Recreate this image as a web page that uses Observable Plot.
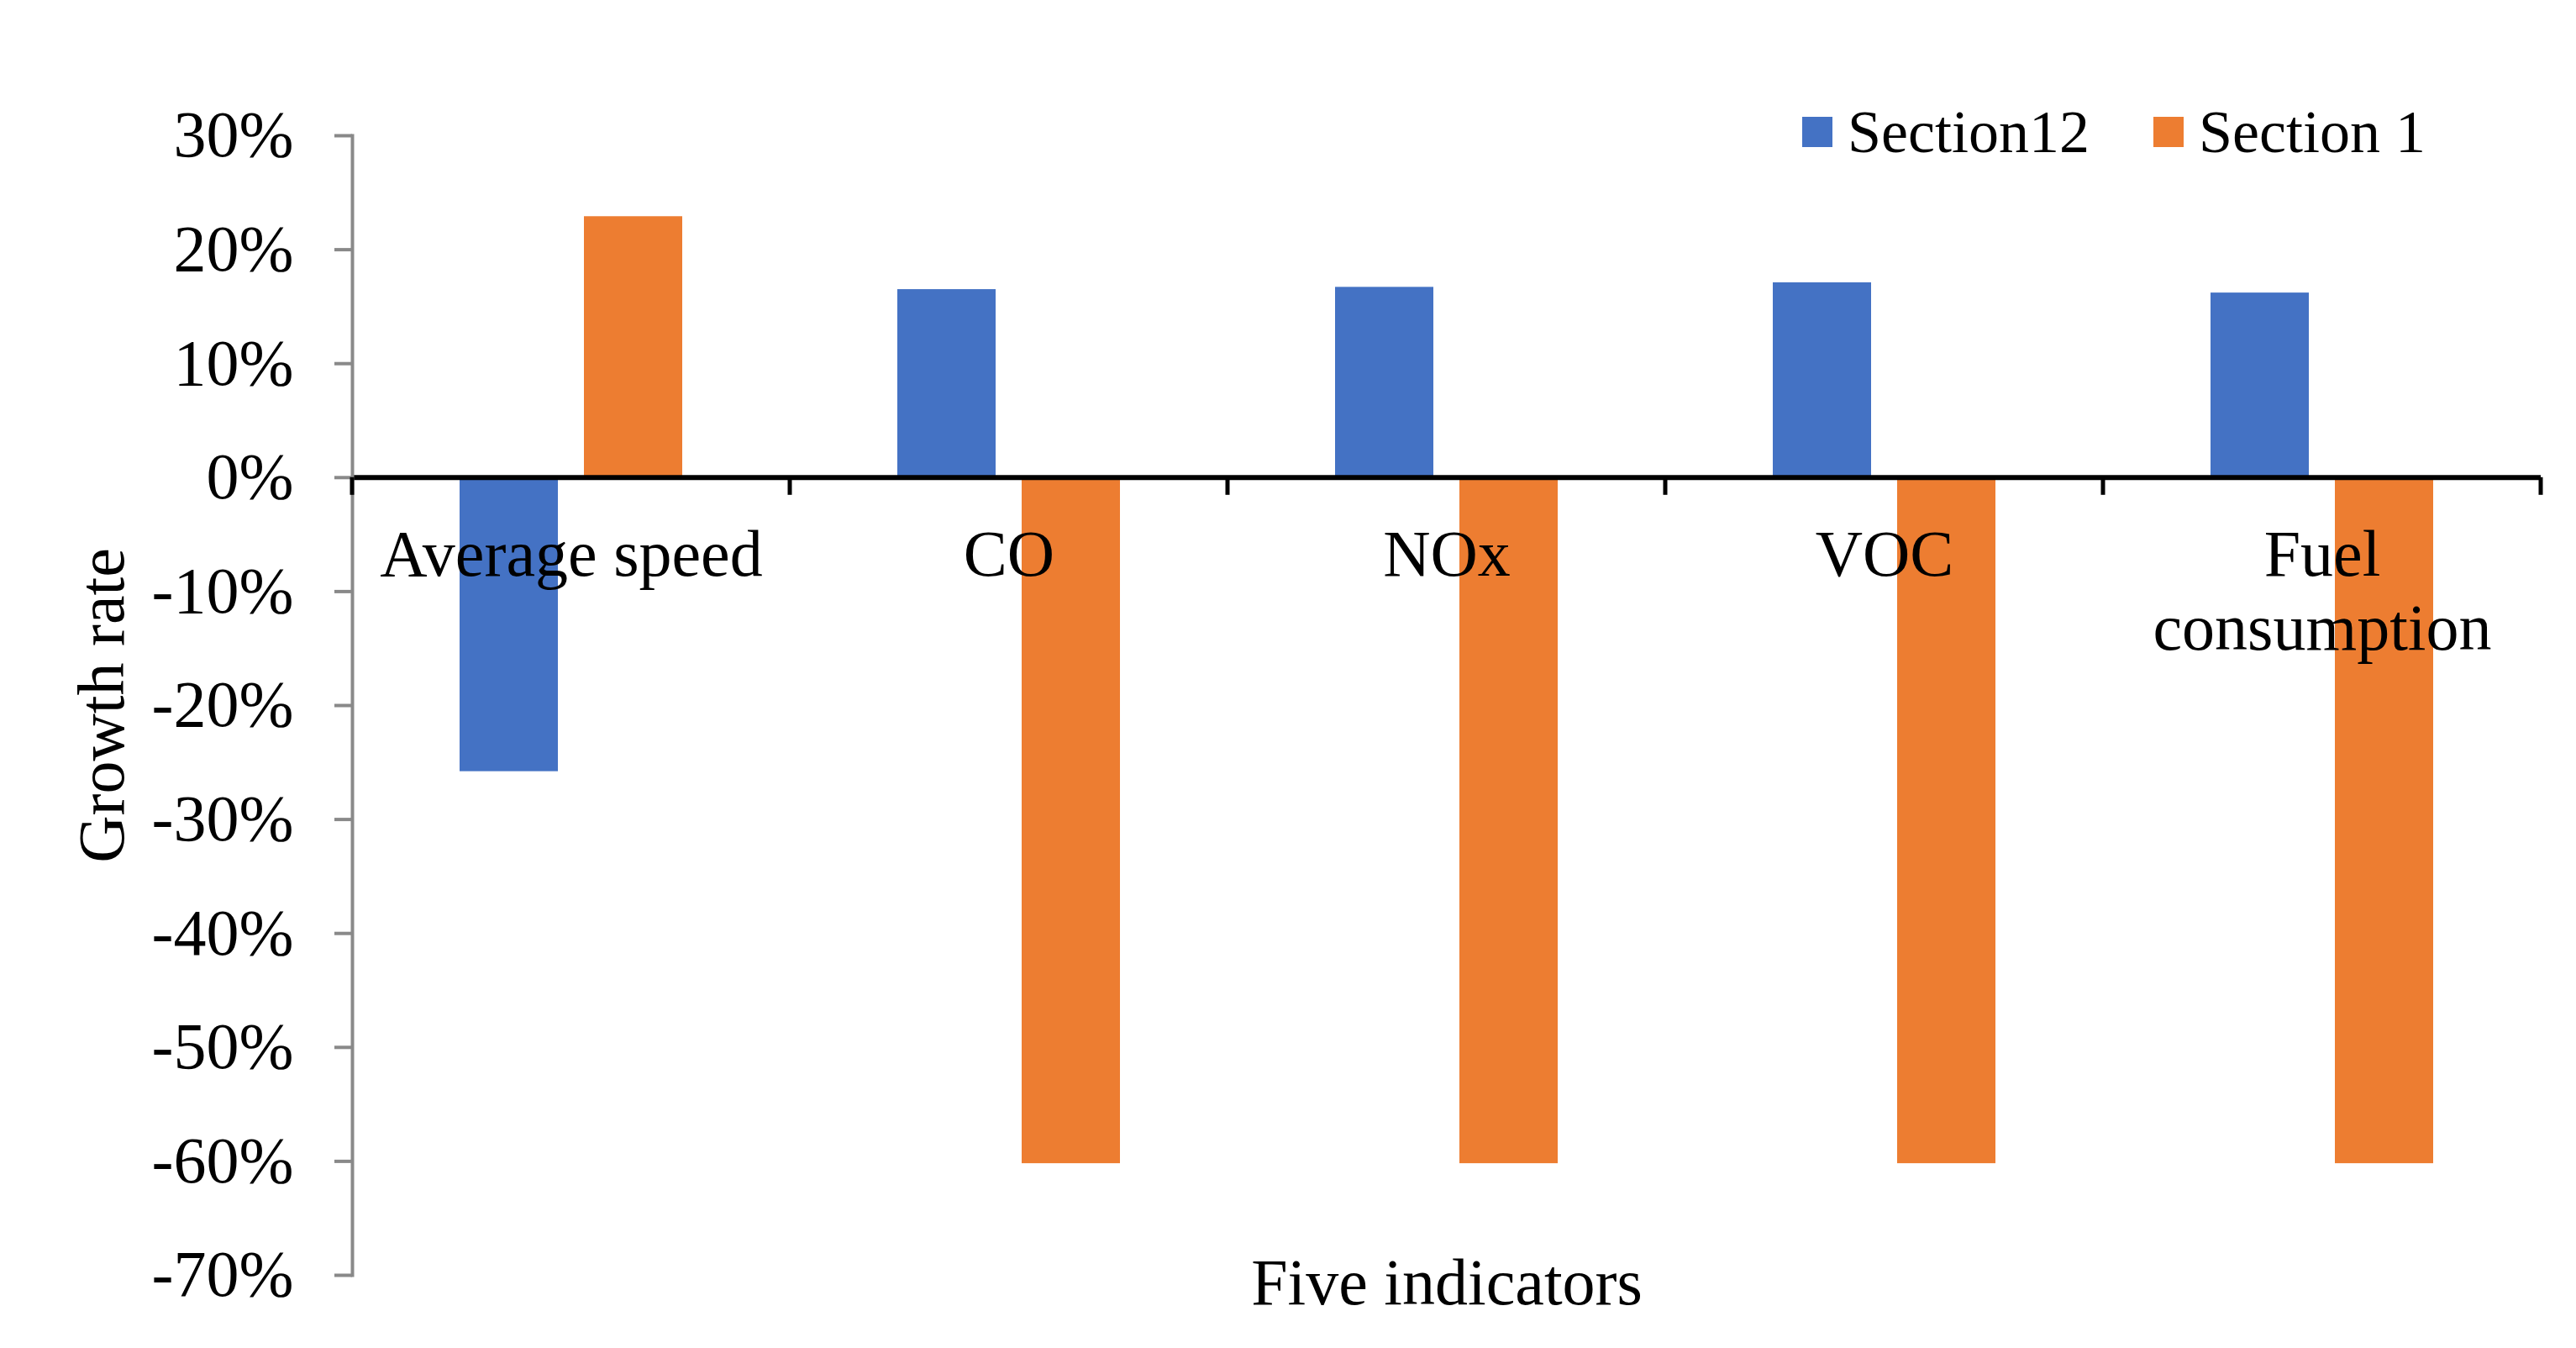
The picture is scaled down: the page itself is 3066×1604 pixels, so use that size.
<!DOCTYPE html>
<html>
<head>
<meta charset="utf-8">
<script src="https://cdn.jsdelivr.net/npm/d3@7"></script>
<script src="https://cdn.jsdelivr.net/npm/@observablehq/plot@0.6"></script>
<style>
  html, body { margin: 0; padding: 0; background: #fff; }
  #wrap { position: relative; width: 3066px; height: 1604px; font-family: "Liberation Serif", "Times New Roman", serif; }
  #legend { position: absolute; left: 2145px; top: 121px; display: flex; align-items: center; font-size: 72px; line-height: 1; color: #000; }
  .item { display: flex; align-items: center; }
  .item + .item { margin-left: 76px; }
  .sw { display: inline-block; width: 36px; height: 36px; margin-right: 18px; }
</style>
</head>
<body>
<div id="wrap"><div id="legend"></div></div>
<script>
// ---- data ----
const categories = ["Average speed", "CO", "NOx", "VOC", "Fuel consumption"];
const categoryLabels = ["Average speed", "CO", "NOx", "VOC", "Fuel\nconsumption"];
const seriesNames = ["Section12", "Section 1"];
const section12 = [-0.258, 0.165, 0.167, 0.171, 0.162];
const section1 = [0.229, -0.602, -0.602, -0.602, -0.602];
const seriesColors = ["#4472C4", "#ED7D31"];
const yTicks = [0.3, 0.2, 0.1, 0, -0.1, -0.2, -0.3, -0.4, -0.5, -0.6, -0.7];
const yLabel = "Growth rate";
const xLabel = "Five indicators";

const rows = [];
categories.forEach((c, i) => {
  rows.push({category: c, series: seriesNames[0], value: section12[i]});
  rows.push({category: c, series: seriesNames[1], value: section1[i]});
});

const fmt = d => `${Math.round(d * 100)}%`;

const plot = Plot.plot({
  width: 3066,
  height: 1604,
  marginLeft: 417,
  marginRight: 40,
  marginTop: 161,
  marginBottom: 87,
  style: {fontFamily: "Liberation Serif, Times New Roman, serif", fontSize: "78px", background: "white", color: "black"},
  fx: {domain: categories, padding: 0, axis: null},
  x: {domain: seriesNames, paddingInner: 0.21, paddingOuter: 0.86, axis: null},
  y: {domain: [-0.7, 0.3]},
  color: {domain: seriesNames, range: seriesColors},
  marks: [
    Plot.barY(rows, {fx: "category", x: "series", y: "value", fill: "series"}),
    Plot.ruleY([0], {stroke: "black", strokeWidth: 6}),
    Plot.frame({anchor: "left", facetAnchor: "left", stroke: "#898989", strokeWidth: 4}),
    Plot.axisY({
      ticks: yTicks, tickSize: 21, tickPadding: 49, tickFormat: fmt,
      stroke: "#898989", strokeWidth: 4, fill: "black", fontSize: 78,
      label: yLabel, labelAnchor: "center", labelArrow: "none", labelOffset: 328
    }),
    Plot.text(categories, {
      fx: d => d, y: 0, text: (d, i) => categoryLabels[i],
      lineAnchor: "top", dy: 54, lineHeight: 1.13, fontSize: 78, fill: "black"
    }),
    Plot.axisFx({anchor: "bottom", ticks: [], label: xLabel, labelAnchor: "center", labelArrow: "none", labelOffset: 34, fontSize: 78})
  ]
});

document.getElementById("wrap").appendChild(plot);

// category separator ticks below the zero line, from Plot's fx and y scales
const fxs = plot.scale("fx");
const ys = plot.scale("y");
const y0 = ys.apply(0);
const bounds = categories.map(c => fxs.apply(c));
bounds.push(fxs.apply(categories[categories.length - 1]) + fxs.bandwidth);
d3.select(plot).append("g")
  .selectAll("line").data(bounds).join("line")
  .attr("x1", d => d).attr("x2", d => d)
  .attr("y1", y0).attr("y2", y0 + 21)
  .attr("stroke", "black").attr("stroke-width", 5);

// legend
const legend = d3.select("#legend");
seriesNames.forEach((s, i) => {
  const it = legend.append("div").attr("class", "item");
  it.append("span").attr("class", "sw").style("background", seriesColors[i]);
  it.append("span").text(s);
});
</script>
</body>
</html>
